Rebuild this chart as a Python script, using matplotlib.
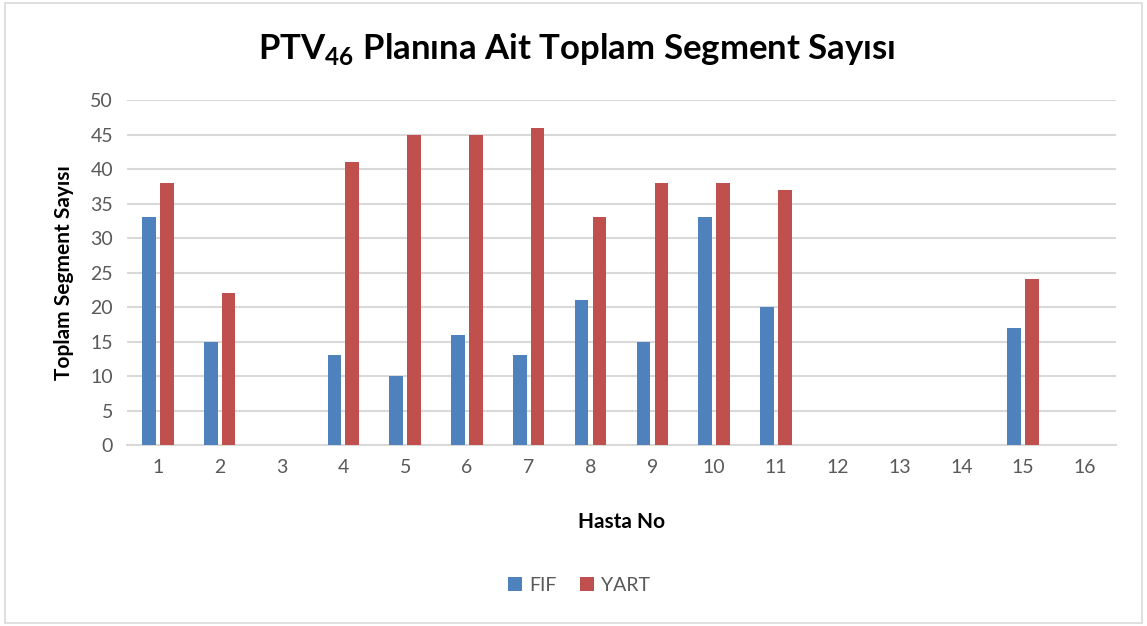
import matplotlib.pyplot as plt
import numpy as np

# hasta numaralari ve segment sayilari
hastalar = [str(i) for i in range(1, 17)]
fif = [33, 15, 0, 13, 10, 16, 13, 21, 15, 33, 20, 0, 0, 0, 17, 0]
yart = [38, 22, 0, 41, 45, 45, 46, 33, 38, 38, 37, 0, 0, 0, 24, 0]
yticks = [0, 5, 10, 15, 20, 25, 30, 35, 40, 45, 50]

plt.rcParams['font.family'] = ['Lato', 'DejaVu Sans']
plt.rcParams['mathtext.fontset'] = 'custom'
plt.rcParams['mathtext.rm'] = 'Lato'
plt.rcParams['mathtext.bf'] = 'Lato:bold'

fig = plt.figure(figsize=(11.47, 6.26), dpi=100)
ax = fig.add_axes([0.1107, 0.2891, 0.8622, 0.5511])

x = np.arange(len(hastalar))
w = 0.22
ax.bar(x - 0.145, fif, w, color='#4F81BD', label='FIF', zorder=3)
ax.bar(x + 0.145, yart, w, color='#C0504D', label='YART', zorder=3)

ax.set_xlim(-0.5, len(hastalar) - 0.5)
ax.set_ylim(0, 50)
ax.set_yticks(yticks)
ax.set_xticks(x)
ax.set_xticklabels(hastalar)
ax.tick_params(length=0, labelsize=14, labelcolor='#595959', pad=10)
ax.grid(axis='y', color='#D9D9D9', linewidth=1.5, zorder=0)
for s in ['top', 'right', 'left']:
    ax.spines[s].set_visible(False)
ax.spines['bottom'].set_color('#D9D9D9')
ax.spines['bottom'].set_linewidth(1.5)

ax.set_xlabel('Hasta No', fontsize=15, fontweight='bold', labelpad=26)
ax.set_ylabel('Toplam Segment Sayısı', fontsize=15, fontweight='bold', labelpad=12)

fig.text(0.503, 0.922, r'PTV$_{\mathbf{46}}$ Planına Ait Toplam Segment Sayısı',
         ha='center', va='center', fontsize=25, fontweight='bold')

fig.legend(loc='center', bbox_to_anchor=(0.505, 0.065), ncol=2, frameon=False,
           fontsize=14, handlelength=0.7, handleheight=0.7, columnspacing=1.2,
           handletextpad=0.4, labelcolor='#595959')

# cerceve
fig.add_artist(plt.Rectangle((0.004, 0.004), 0.992, 0.992, transform=fig.transFigure,
                             fill=False, edgecolor='#D9D9D9', linewidth=1.2))

fig.savefig('out.png', dpi=100)
